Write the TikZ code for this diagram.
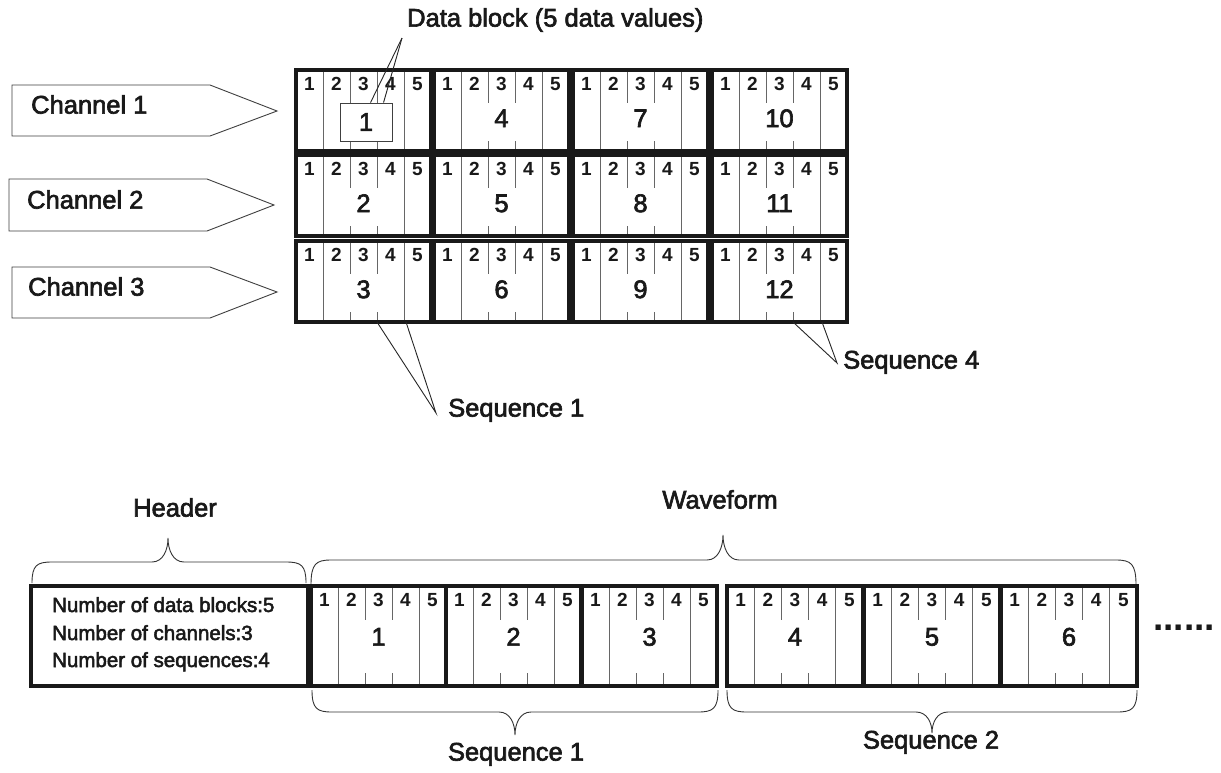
\documentclass[tikz,border=0pt]{standalone}
\usepackage{fontspec}
\setmainfont{Liberation Sans}
\newfontfamily\heavyfont{Liberation Sans}[RawFeature={embolden=2.5}]
\usetikzlibrary{calc}
\tikzset{
 blk/.style={draw=black!90, line width=3.5pt, inner sep=0pt, outer sep=0pt},
 thinln/.style={draw=black!60, line width=0.9pt},
 colnum/.style={font=\fontsize{19}{21}\selectfont\bfseries, text=black!90, inner sep=0pt, text height=0.72em, text depth=0pt},
 bignum/.style={font=\heavyfont\fontsize{25.5}{28}\selectfont, text=black!90, inner sep=0pt, text height=0.72em, text depth=0pt},
 lbl/.style={font=\heavyfont\fontsize{25.5}{28}\selectfont, text=black!90, inner sep=0pt, text height=0.72em, text depth=0pt},
 hdr/.style={font=\heavyfont\fontsize{20.5}{24}\selectfont, text=black!90, inner sep=0pt, anchor=base west},
 lead/.style={draw=black!85, line width=0.9pt},
 brc/.style={draw=black!80, line width=0.9pt},
 chan/.style={draw=black!75, line width=0.9pt, fill=white},
 smallbox/.style={draw=black!75, line width=0.9pt, fill=white, minimum width=52pt, minimum height=38pt, inner sep=0pt, font=\heavyfont\fontsize{25.5}{28}\selectfont, text=black!90},
}
% block: #1 name, #2 x, #3 y (top), #4 width, #5 height, #6 big number
\newcommand\dblk[6]{%
 \pgfmathsetmacro\cw{#4/5}
 \foreach \k in {1,4} {\draw[thinln] ({#2+\k*\cw},#3) -- ({#2+\k*\cw},{#3+#5});}
 \foreach \k in {2,3} {\draw[thinln] ({#2+\k*\cw},#3) -- ({#2+\k*\cw},{#3+\linelen});
   \draw[thinln] ({#2+\k*\cw},{#3+#5-\tick}) -- ({#2+\k*\cw},{#3+#5});}
 \coordinate (#1l3) at ({#2+3*\cw},{#3+#5});
 \coordinate (#1l4) at ({#2+4*\cw+2},{#3+#5});
 \foreach \k in {1,...,5} {\node[colnum] (#1c\k) at ({#2+(\k-0.5)*\cw},{#3+17}) {\k};}
 \node[bignum] (#1n) at ({#2+#4/2},{#3+\bigy}) {#6};
 \node[blk, minimum width=#4pt, minimum height=#5pt, anchor=north west] (#1) at (#2,#3) {};
}
% brace: #1 x0, #2 x1, #3 tip x, #4 y base, #5 y horizontal, #6 y tip
\newcommand\bracep[6]{%
 \draw[brc] (#1,#4) .. controls (#1,{#5+(#4-#5)*0.15}) and ({#1+5},#5) .. ({#1+20},#5)
   -- ({#3-16},#5) .. controls ({#3-5},#5) and (#3,{(#5+#6)/2}) .. (#3,#6)
   .. controls (#3,{(#5+#6)/2}) and ({#3+5},#5) .. ({#3+16},#5)
   -- ({#2-20},#5) .. controls ({#2-5},#5) and (#2,{#5+(#4-#5)*0.15}) .. (#2,#4);
}
\begin{document}
\begin{tikzpicture}[x=1pt,y=-1pt]
\useasboundingbox (0,0) rectangle (1221,772);
\fill[white] (0,0) rectangle (1221,772);

% channel arrows
\draw[chan] (12,85) -- (210,85) -- (277,111) -- (210,136) -- (12,136) -- cycle;
\draw[chan] (9,179) -- (207,179) -- (274,205) -- (207,231) -- (9,231) -- cycle;
\draw[chan] (12,267) -- (210,267) -- (277,292) -- (210,318) -- (12,318) -- cycle;
\node[lbl, anchor=west] (ch1) at (31,110) {Channel 1};
\node[lbl, anchor=west] (ch2) at (27,205) {Channel 2};
\node[lbl, anchor=west] (ch3) at (28,292) {Channel 3};

% top grid
\def\linelen{33}\def\tick{10}\def\bigy{53.5}
\dblk{t1}{296}{70}{135}{81}{}
\dblk{t2}{296}{155}{135}{81}{2}
\dblk{t3}{296}{241}{135}{81}{3}
\dblk{t4}{434}{70}{135}{81}{4}
\dblk{t5}{434}{155}{135}{81}{5}
\dblk{t6}{434}{241}{135}{81}{6}
\dblk{t7}{573}{70}{135}{81}{7}
\dblk{t8}{573}{155}{135}{81}{8}
\dblk{t9}{573}{241}{135}{81}{9}
\dblk{t10}{712}{70}{135}{81}{10}
\dblk{t11}{712}{155}{135}{81}{11}
\dblk{t12}{712}{241}{135}{81}{12}

% data block box and label
\node[smallbox] (dbox) at (366,122) {1};
\node[lbl, anchor=west] (dblabel) at (407,23) {Data block (5 data values)};
\coordinate (dbtip) at (402,38);
\draw[lead] (dbtip) -- ($(dbox.north west)+(31,0)$);
\draw[lead] (dbtip) -- ($(dbox.north west)+(44,0)$);

% sequence labels (top)
\node[lbl, anchor=west] (seqA) at (448,413) {Sequence 1};
\coordinate (seqAtip) at (436,413);
\draw[lead] (t3l3) -- (seqAtip) -- (t3l4);
\node[lbl, anchor=west] (seqB) at (843,365) {Sequence 4};
\coordinate (seqBtip) at (837,363);
\draw[lead] (t12l3) -- (seqBtip) -- (t12l4);

% bottom: header
\node[lbl] (hdrlbl) at (175,513) {Header};
\bracep{32}{306}{168}{583}{562}{538}
\node[blk, minimum width=277pt, minimum height=100pt, anchor=north west] (hbox) at (31,586) {};
\node[hdr] (h1) at (52,612) {Number of data blocks:5};
\node[hdr] (h2) at (52,640) {Number of channels:3};
\node[hdr] (h3) at (52,667) {Number of sequences:4};

% waveform
\node[lbl] (wflbl) at (720,505) {Waveform};
\bracep{311}{1136}{723}{585}{560}{535}
\def\linelen{34}\def\tick{13}\def\bigy{56}
\dblk{w1}{311}{586}{135}{100}{1}
\dblk{w2}{446}{586}{135}{100}{2}
\dblk{w3}{582}{586}{135}{100}{3}
\dblk{w4}{727}{586}{136}{100}{4}
\dblk{w5}{864}{586}{136}{100}{5}
\dblk{w6}{1001}{586}{136}{100}{6}
\node[font=\fontsize{37}{40}\selectfont\bfseries, text=black!90, inner sep=0pt, anchor=base] (dots) at (1184,630) {......};

% sequence braces (bottom)
\bracep{312}{718}{515}{690}{712}{735}
\bracep{727}{1137}{932}{690}{712}{733}
\node[lbl] (seq1) at (516,757) {Sequence 1};
\node[lbl] (seq2) at (931,745) {Sequence 2};
\end{tikzpicture}
\end{document}
